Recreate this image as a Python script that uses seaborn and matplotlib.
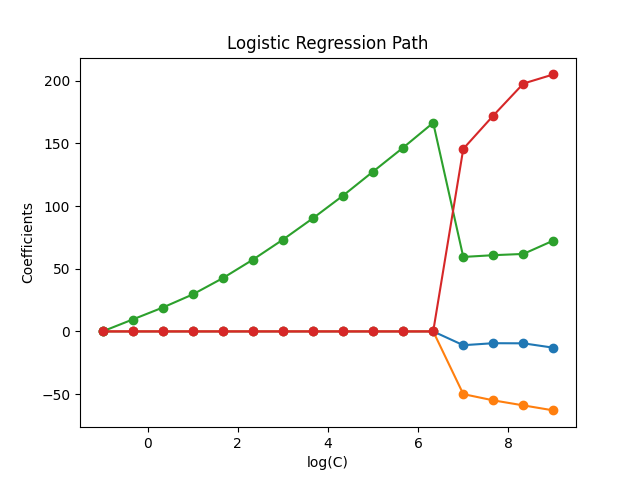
import numpy as np
import pandas as pd
import matplotlib
matplotlib.use('Agg')
import matplotlib.pyplot as plt
import seaborn as sns

# ── Data ────────────────────────────────────────────────────────────────────
log_c = [-1.0, -0.333, 0.333, 1.0, 1.667, 2.333, 3.0, 3.667,
         4.333, 5.0, 5.667, 6.333, 7.0, 7.667, 8.333, 9.0]

coef_0 = [0, 0, 0, 0, 0, 0, 0, 0, 0, 0, 0, 0, -11.0, -9.4, -9.5, -13.0]
coef_1 = [0, 0, 0, 0, 0, 0, 0, 0, 0, 0, 0, 0, -50.0, -55.0, -59.0, -63.0]
coef_2 = [0, 9.5, 19.0, 29.5, 42.5, 57.2, 73.2, 90.3, 108.3, 127.5,
          146.6, 166.4, 59.4, 60.8, 61.8, 72.5]
coef_3 = [0, 0, 0, 0, 0, 0, 0, 0, 0, 0, 0, 0, 145.6, 172.2, 197.7, 205.0]

colors = ['#1f77b4', '#ff7f0e', '#2ca02c', '#d62728']

df = pd.DataFrame({'log_c': log_c, 'c0': coef_0, 'c1': coef_1,
                   'c2': coef_2, 'c3': coef_3})

# ── Plot ────────────────────────────────────────────────────────────────────
fig, ax = plt.subplots(figsize=(6.4, 4.8), dpi=100)
for col, color in zip(['c0', 'c1', 'c2', 'c3'], colors):
    sns.lineplot(data=df, x='log_c', y=col, ax=ax, color=color,
                 marker='o', markersize=6, markeredgecolor=color,
                 markeredgewidth=1, linewidth=1.5)

ax.set_xlabel('log(C)')
ax.set_ylabel('Coefficients')
ax.set_title('Logistic Regression Path')
ax.axis('tight')

plt.savefig('out.png', dpi=100)
